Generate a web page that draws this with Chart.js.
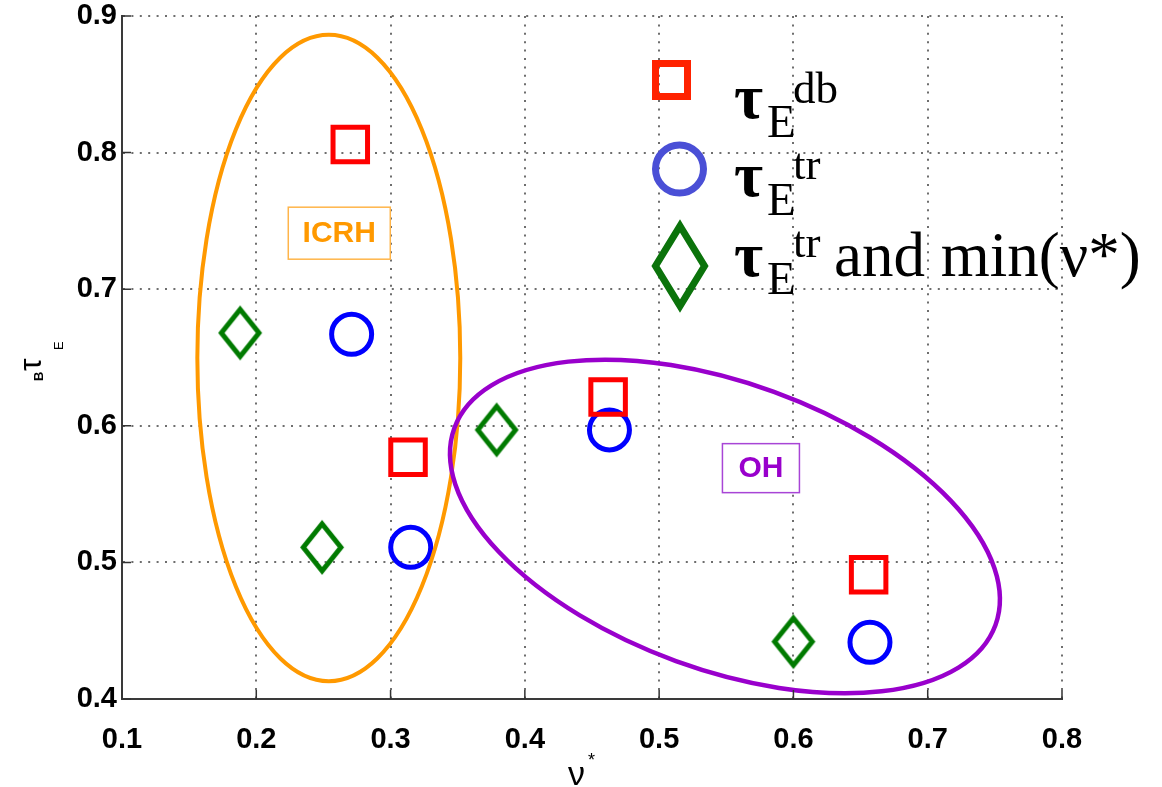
<!DOCTYPE html>
<html>
<head>
<meta charset="utf-8">
<script src="https://cdn.jsdelivr.net/npm/chart.js@4.4.1/dist/chart.umd.min.js"></script>
<style>
  html, body { margin: 0; padding: 0; background: #ffffff; }
  #wrap { width: 1162px; height: 787px; }
</style>
</head>
<body>
<div id="wrap"><canvas id="grafico"></canvas></div>
<script>
// tau_E (db scaling), tau_E (transport) and tau_E (transport, min nu*) against nu*
const nuDb = [0.270, 0.313, 0.462, 0.656];
const tauDb = [0.806, 0.577, 0.621, 0.491];
const nuTr = [0.271, 0.315, 0.463, 0.657];
const tauTr = [0.667, 0.511, 0.597, 0.4415];
const nuMin = [0.188, 0.249, 0.379, 0.600];
const tauMin = [0.668, 0.511, 0.597, 0.442];

const xTicks = [0.1, 0.2, 0.3, 0.4, 0.5, 0.6, 0.7, 0.8];
const yTicks = [0.4, 0.5, 0.6, 0.7, 0.8, 0.9];

// regiones ICRH / OH: centro, semiejes (unidades de datos) y giro en grados
const grupos = ["ICRH", "OH"];
const grupoNu = [0.254, 0.549];
const grupoTau = [0.6496, 0.5263];
const grupoRadioNu = [0.0979, 0.2144];
const grupoRadioTau = [0.2366, 0.1049];
const grupoGiro = [0, 20];
const etiquetaNu = [0.2618, 0.5758];
const etiquetaTau = [0.741, 0.569];

const colorGrupo = ["#ff9900", "#9900cc"];
const colorCaja = ["#ffb54a", "#a845d6"];
const cajaAncho = [102, 77];
const cajaAlto = [52, 49];

const puntos = (xs, ys) => xs.map((x, i) => ({ x: x, y: ys[i] }));

// rombo alargado para los marcadores verdes
function hacerRombo(color, ancho, alto, grosor) {
  const c = document.createElement("canvas");
  c.width = Math.ceil(ancho + grosor * 4);
  c.height = Math.ceil(alto + grosor * 6);
  const g = c.getContext("2d");
  const cx = c.width / 2;
  const cy = c.height / 2;
  g.strokeStyle = color;
  g.lineWidth = grosor;
  g.lineJoin = "miter";
  g.beginPath();
  g.moveTo(cx, cy - alto / 2);
  g.lineTo(cx + ancho / 2, cy);
  g.lineTo(cx, cy + alto / 2);
  g.lineTo(cx - ancho / 2, cy);
  g.closePath();
  g.stroke();
  return c;
}

const rombo = hacerRombo("#007a00", 37.6, 47, 5);

// el area util empieza en y = 16 (las etiquetas del eje y la empujaban hacia abajo)
const ajusteArea = {
  id: "ajusteArea",
  afterLayout(chart) {
    const a = chart.chartArea;
    const ys = chart.scales.y;
    a.top = 16;
    a.height = a.bottom - a.top;
    ys.top = a.top;
    ys.height = ys.bottom - ys.top;
    ys.configure();
  },
};

const regiones = {
  id: "regiones",
  afterDatasetsDraw(chart) {
    const ctx = chart.ctx;
    const xs = chart.scales.x;
    const ys = chart.scales.y;
    const pxX = Math.abs(xs.getPixelForValue(1) - xs.getPixelForValue(0));
    const pxY = Math.abs(ys.getPixelForValue(1) - ys.getPixelForValue(0));
    for (let i = 0; i < grupos.length; i++) {
      ctx.save();
      ctx.strokeStyle = colorGrupo[i];
      ctx.lineWidth = i === 0 ? 4 : 4.5;
      ctx.beginPath();
      ctx.ellipse(
        xs.getPixelForValue(grupoNu[i]),
        ys.getPixelForValue(grupoTau[i]),
        grupoRadioNu[i] * pxX,
        grupoRadioTau[i] * pxY,
        (grupoGiro[i] * Math.PI) / 180,
        0,
        Math.PI * 2
      );
      ctx.stroke();

      // caja con el nombre del grupo
      const ex = xs.getPixelForValue(etiquetaNu[i]);
      const ey = ys.getPixelForValue(etiquetaTau[i]);
      ctx.fillStyle = "#ffffff";
      ctx.fillRect(ex - cajaAncho[i] / 2, ey - cajaAlto[i] / 2, cajaAncho[i], cajaAlto[i]);
      ctx.strokeStyle = colorCaja[i];
      ctx.lineWidth = 1.5;
      ctx.strokeRect(ex - cajaAncho[i] / 2, ey - cajaAlto[i] / 2, cajaAncho[i], cajaAlto[i]);
      ctx.fillStyle = colorGrupo[i];
      ctx.font = "bold 30px 'Liberation Sans', Arial, sans-serif";
      ctx.textAlign = "center";
      ctx.textBaseline = "middle";
      ctx.fillText(grupos[i], ex, ey + 1);
      ctx.restore();
    }
  },
};

const adornos = {
  id: "adornos",
  afterDraw(chart) {
    const ctx = chart.ctx;
    const a = chart.chartArea;
    const xs = chart.scales.x;
    const ys = chart.scales.y;

    // marcas hacia dentro de los ejes
    ctx.save();
    ctx.strokeStyle = "#333333";
    ctx.lineWidth = 1.5;
    ctx.beginPath();
    for (const t of xs.ticks) {
      const px = xs.getPixelForValue(t.value);
      ctx.moveTo(px, a.bottom);
      ctx.lineTo(px, a.bottom - 9);
    }
    for (const t of ys.ticks) {
      const py = ys.getPixelForValue(t.value);
      ctx.moveTo(a.left, py);
      ctx.lineTo(a.left + 9, py);
    }
    ctx.stroke();
    ctx.restore();

    // titulo eje x: nu*
    ctx.save();
    ctx.fillStyle = "#000000";
    ctx.textBaseline = "alphabetic";
    ctx.textAlign = "left";
    ctx.font = "34px 'Liberation Sans', Arial, sans-serif";
    ctx.fillText("ν", a.left + 446, 785);
    ctx.font = "18px 'Liberation Sans', Arial, sans-serif";
    ctx.fillText("*", a.left + 466, 766);
    ctx.restore();

    // titulo eje y (rotado)
    ctx.save();
    ctx.translate(a.left - 81, 381);
    ctx.rotate(-Math.PI / 2);
    ctx.fillStyle = "#000000";
    ctx.textAlign = "left";
    ctx.textBaseline = "alphabetic";
    ctx.font = "bold 13px 'Liberation Sans', Arial, sans-serif";
    ctx.fillText("B", 0, 2);
    ctx.font = "32px 'Liberation Sans', Arial, sans-serif";
    ctx.fillText("τ", 10, 0);
    ctx.font = "13px 'Liberation Sans', Arial, sans-serif";
    ctx.fillText("E", 31, 22);
    ctx.restore();

    // leyenda
    const lx = a.left;
    const ly = a.top;
    ctx.save();
    ctx.lineJoin = "miter";
    ctx.lineWidth = 7;
    ctx.strokeStyle = "#ff2200";
    ctx.strokeRect(lx + 549.5 - 16, ly + 64 - 16.5, 32, 33);
    ctx.strokeStyle = "#4a4fd6";
    ctx.beginPath();
    ctx.arc(lx + 557.5, ly + 153, 24, 0, Math.PI * 2);
    ctx.stroke();
    ctx.strokeStyle = "#0b730b";
    ctx.beginPath();
    ctx.moveTo(lx + 558, ly + 250 - 40);
    ctx.lineTo(lx + 558 + 24.5, ly + 250);
    ctx.lineTo(lx + 558, ly + 250 + 40);
    ctx.lineTo(lx + 558 - 24.5, ly + 250);
    ctx.closePath();
    ctx.stroke();

    const serif = "'Liberation Serif', 'Times New Roman', serif";
    const entradas = [
      { base: 102, sub: 121, sup: 87, sobre: "db", resto: "" },
      { base: 180, sub: 199, sup: 163, sobre: "tr", resto: "" },
      { base: 260, sub: 278, sup: 241, sobre: "tr", resto: "and min(ν*)" },
    ];
    ctx.fillStyle = "#000000";
    ctx.textAlign = "left";
    ctx.textBaseline = "alphabetic";
    for (const e of entradas) {
      ctx.font = "bold 63px " + serif;
      ctx.fillText("τ", lx + 612, ly + e.base);
      ctx.font = "47px " + serif;
      ctx.fillText("E", lx + 645, ly + e.sub);
      ctx.font = "45px " + serif;
      ctx.fillText(e.sobre, lx + 671, ly + e.sup);
      if (e.resto) {
        ctx.font = "63px " + serif;
        ctx.fillText(e.resto, lx + 712, ly + e.base);
      }
    }
    ctx.restore();
  },
};

const grafico = document.getElementById("grafico").getContext("2d");
const myChart = new Chart(grafico, {
  type: "scatter",
  data: {
    datasets: [
      {
        label: "tau_E db",
        data: puntos(nuDb, tauDb),
        pointStyle: "rect",
        pointRadius: 24.4,
        pointBorderWidth: 5,
        borderColor: "#ff0000",
        backgroundColor: "rgba(0, 0, 0, 0)",
      },
      {
        label: "tau_E tr",
        data: puntos(nuTr, tauTr),
        pointStyle: "circle",
        pointRadius: 20,
        pointBorderWidth: 5,
        borderColor: "#0000ff",
        backgroundColor: "rgba(0, 0, 0, 0)",
      },
      {
        label: "tau_E tr min(nu*)",
        data: puntos(nuMin, tauMin),
        pointStyle: rombo,
        pointRadius: 20,
        borderColor: "#007a00",
        backgroundColor: "rgba(0, 0, 0, 0)",
      },
    ],
  },
  options: {
    responsive: true,
    maintainAspectRatio: false,
    animation: false,
    layout: { padding: { top: 16, right: 100, left: 0, bottom: 0 } },
    scales: {
      x: {
        type: "linear",
        min: 0.1,
        max: 0.8,
        afterBuildTicks: (s) => {
          s.ticks = xTicks.map((v) => ({ value: v }));
        },
        afterFit: (s) => {
          s.height = 88;
        },
        grid: { color: "#6e6e6e", lineWidth: 2, drawTicks: false },
        border: { display: true, color: "#3a3a3a", width: 2, dash: [2, 6.4] },
        ticks: {
          padding: 26,
          color: "#000000",
          font: { family: "'Liberation Sans', Arial, sans-serif", size: 29, weight: "bold", lineHeight: 1 },
          callback: (v) => Number(v).toFixed(1),
        },
      },
      y: {
        type: "linear",
        min: 0.4,
        max: 0.9,
        afterBuildTicks: (s) => {
          s.ticks = yTicks.map((v) => ({ value: v }));
        },
        afterFit: (s) => {
          s.width = 122;
        },
        grid: { color: "#6e6e6e", lineWidth: 2, drawTicks: false },
        border: { display: true, color: "#3a3a3a", width: 2, dash: [2, 6.4] },
        ticks: {
          padding: 5,
          color: "#000000",
          font: { family: "'Liberation Sans', Arial, sans-serif", size: 29, weight: "bold", lineHeight: 1 },
          callback: (v) => Number(v).toFixed(1),
        },
      },
    },
    plugins: {
      legend: { display: false },
      tooltip: { enabled: false },
    },
  },
  plugins: [ajusteArea, regiones, adornos],
});
</script>
</body>
</html>
